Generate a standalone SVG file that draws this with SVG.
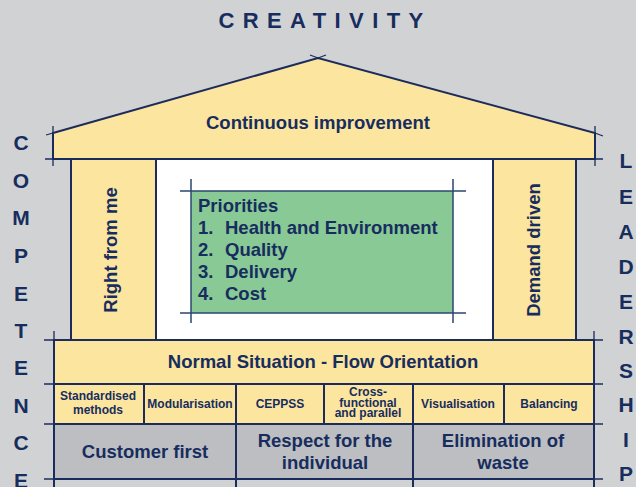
<svg xmlns="http://www.w3.org/2000/svg" width="636" height="487" viewBox="0 0 636 487">
<style>
.ln{stroke:#1b2c5c;stroke-width:2;fill:none}
.tk{stroke:#1b2c5c;stroke-width:1.3;fill:none}
.y{fill:#fce59e;stroke:#1b2c5c;stroke-width:2}
.g{fill:#bdbec2;stroke:#1b2c5c;stroke-width:2}
text{font-family:"Liberation Sans",Arial,sans-serif;font-weight:bold;fill:#172d5e}
.side{font-size:21px;text-anchor:middle}
.big{font-size:18.5px;text-anchor:middle}
.sm{font-size:12px;text-anchor:middle}
.pr{font-size:18.5px}
</style>
<rect x="0" y="0" width="636" height="487" fill="#d1d2d4"/>
<text x="325" y="28" text-anchor="middle" font-size="22" letter-spacing="8.4">CREATIVITY</text>
<g id="roof">
<polygon class="y" points="53,133 318,58 595,133 595,159 53,159"/>
<path class="tk" d="M46,135 L53,133 M318,58 L326,55 M318,58 L310,55 M595,133 L603,136 M53,126 V166 M595,126 V166 M45,159 H603"/>
<text class="big" x="318" y="129">Continuous improvement</text>
</g>
<g id="interior">
<rect x="156" y="159" width="337" height="181" fill="#ffffff" stroke="#1b2c5c" stroke-width="2"/>
</g>
<g id="pillar-left">
<rect class="y" x="71" y="159" width="85" height="181"/>
<text class="big" transform="translate(117,250) rotate(-90)">Right from me</text>
</g>
<g id="pillar-right">
<rect class="y" x="493" y="159" width="83" height="181"/>
<text class="big" transform="translate(540,250) rotate(-90)">Demand driven</text>
</g>
<g id="priorities">
<rect x="191" y="191" width="262" height="122" fill="#88c995"/>
<path d="M180,191 H466 M180,313 H466 M191,179 V323 M453,179 V323" stroke="#2a4770" stroke-width="1.5" fill="none"/>
<text class="pr" x="198" y="212">Priorities</text>
<text class="pr" x="198" y="234">1.</text><text class="pr" x="225" y="234">Health and Environment</text>
<text class="pr" x="198" y="256">2.</text><text class="pr" x="225" y="256">Quality</text>
<text class="pr" x="198" y="278">3.</text><text class="pr" x="225" y="278">Delivery</text>
<text class="pr" x="198" y="300">4.</text><text class="pr" x="225" y="300">Cost</text>
</g>
<g id="flow">
<rect class="y" x="54" y="340" width="540" height="44"/>
<path class="tk" d="M44,340 H603 M54,331 V348 M594,331 V348"/>
<text class="big" x="323" y="368">Normal Situation - Flow Orientation</text>
</g>
<g id="methods">
<rect class="y" x="54" y="384" width="90" height="40"/>
<rect class="y" x="144" y="384" width="92" height="40"/>
<rect class="y" x="236" y="384" width="88" height="40"/>
<rect class="y" x="324" y="384" width="89" height="40"/>
<rect class="y" x="413" y="384" width="91" height="40"/>
<rect class="y" x="504" y="384" width="90" height="40"/>
<path class="tk" d="M44,384 H603 M44,424 H603"/>
<text class="sm" x="98" y="400">Standardised</text>
<text class="sm" x="98" y="414">methods</text>
<text class="sm" x="190" y="408">Modularisation</text>
<text class="sm" x="280" y="408">CEPPSS</text>
<text class="sm" x="368" y="396">Cross-</text>
<text class="sm" x="368" y="406.5">functional</text>
<text class="sm" x="368" y="417">and parallel</text>
<text class="sm" x="458" y="408">Visualisation</text>
<text class="sm" x="549" y="408">Balancing</text>
</g>
<g id="values">
<rect class="g" x="54" y="424" width="182" height="55"/>
<rect class="g" x="236" y="424" width="177" height="55"/>
<rect class="g" x="413" y="424" width="181" height="55"/>
<path class="ln" d="M54,479 V487 M236,479 V487 M413,479 V487 M594,479 V487"/>
<path class="tk" d="M44,479 H603"/>
<text class="big" x="145" y="458">Customer first</text>
<text class="big" x="325" y="447">Respect for the</text>
<text class="big" x="325" y="469">individual</text>
<text class="big" x="503" y="447">Elimination of</text>
<text class="big" x="503" y="469">waste</text>
</g>
<g id="competence">
<text class="side" x="21" y="150">C</text>
<text class="side" x="21" y="188">O</text>
<text class="side" x="21" y="225">M</text>
<text class="side" x="21" y="263">P</text>
<text class="side" x="21" y="301">E</text>
<text class="side" x="21" y="338">T</text>
<text class="side" x="21" y="375">E</text>
<text class="side" x="21" y="413">N</text>
<text class="side" x="21" y="450">C</text>
<text class="side" x="21" y="488">E</text>
</g>
<g id="leadership">
<text class="side" x="626" y="168">L</text>
<text class="side" x="626" y="204">E</text>
<text class="side" x="626" y="239">A</text>
<text class="side" x="626" y="274">D</text>
<text class="side" x="626" y="309">E</text>
<text class="side" x="626" y="344">R</text>
<text class="side" x="626" y="378">S</text>
<text class="side" x="626" y="412">H</text>
<text class="side" x="626" y="447">I</text>
<text class="side" x="626" y="481">P</text>
</g>
</svg>
